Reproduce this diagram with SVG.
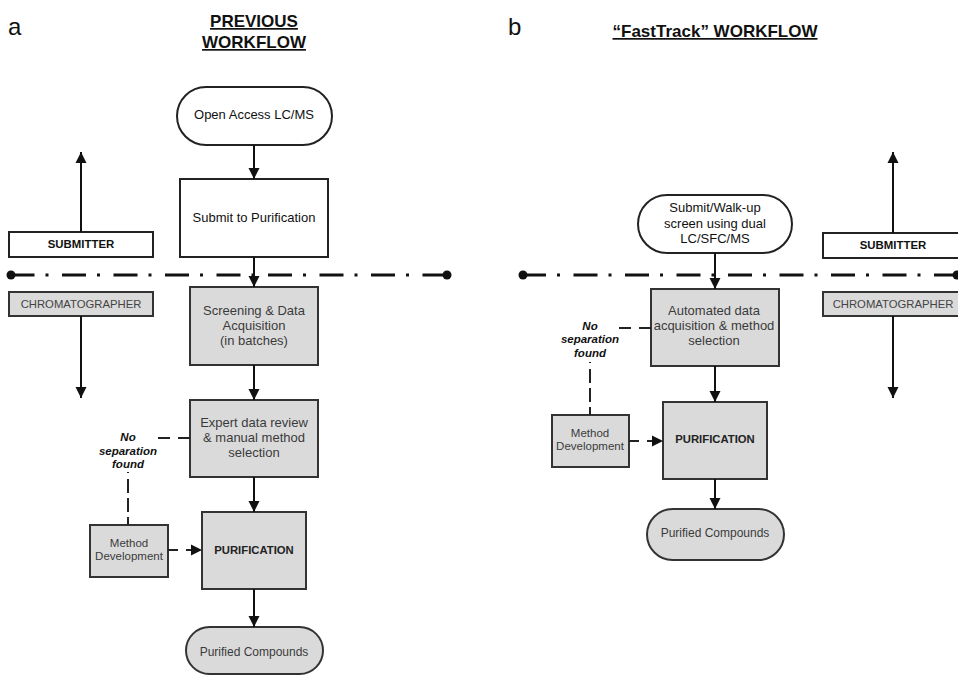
<svg xmlns="http://www.w3.org/2000/svg" width="958" height="676" viewBox="0 0 958 676">
<defs>
<marker id="ah" markerUnits="userSpaceOnUse" markerWidth="12" markerHeight="12" viewBox="0 0 12 12" refX="11" refY="6" orient="auto">
<path d="M0,0.5 L11,6 L0,11.5 Z" fill="#111"/>
</marker>
<style>
text{font-family:"Liberation Sans",Arial,sans-serif;}
.lbl{font-size:24px;fill:#111;}
.title{font-size:17px;font-weight:bold;fill:#111;text-anchor:middle;text-decoration:underline;}
.w{fill:#fff;stroke:#222;stroke-width:2;}
.g{fill:#dadada;stroke:#333;stroke-width:2;}
.tw{font-size:13px;fill:#111;text-anchor:middle;}
.tg{font-size:13px;fill:#3a3a3a;text-anchor:middle;}
.tm{font-size:11.5px;fill:#3a3a3a;text-anchor:middle;}
.tb{font-size:11.3px;font-weight:bold;fill:#222;text-anchor:middle;}
.role{font-size:11.4px;font-weight:bold;fill:#111;text-anchor:middle;}
.roleg{font-size:11.3px;fill:#444;text-anchor:middle;}
.ns{font-size:11.5px;font-weight:bold;font-style:italic;fill:#111;text-anchor:middle;}
.c{fill:none;stroke:#111;stroke-width:2;}
.arr{fill:none;stroke:#111;stroke-width:2;marker-end:url(#ah);}
.dash{fill:none;stroke:#222;stroke-width:2;stroke-dasharray:12 8;}
.dasharr{fill:none;stroke:#222;stroke-width:2;stroke-dasharray:10 8;marker-end:url(#ah);}
.sep{fill:none;stroke:#111;stroke-width:3;stroke-dasharray:24 11 3 13.5;}
</style>
</defs>

<g id="panel-labels">
<text class="lbl" x="8" y="35">a</text>
<text class="lbl" x="508" y="35">b</text>
<text class="title" x="254" y="27">PREVIOUS</text>
<text class="title" x="254" y="48">WORKFLOW</text>
<text class="title" x="715" y="37">“FastTrack” WORKFLOW</text>
</g>

<g id="lane-separators">
<line class="sep" x1="10.5" y1="275" x2="447" y2="275"/>
<circle cx="11" cy="275" r="4.5" fill="#111"/>
<circle cx="447" cy="275" r="4.5" fill="#111"/>
<line class="sep" x1="522" y1="275" x2="958" y2="275"/>
<circle cx="523" cy="275" r="4.5" fill="#111"/>
<circle cx="957" cy="275" r="4.5" fill="#111"/>
</g>

<!-- Panel a nodes -->
<g id="a-submitter">
<rect class="w" x="9" y="232" width="144" height="25"/>
<text class="role" x="81" y="248">SUBMITTER</text>
</g>
<g id="a-chromatographer">
<rect class="g" x="9" y="292" width="144" height="24"/>
<text class="roleg" x="81" y="308">CHROMATOGRAPHER</text>
</g>
<g id="a-open-access">
<rect class="w" x="177" y="87" width="155" height="58" rx="29"/>
<text class="tw" x="254" y="119">Open Access LC/MS</text>
</g>
<g id="a-submit">
<rect class="w" x="180" y="179" width="148" height="78"/>
<text class="tw" x="254" y="222">Submit to Purification</text>
</g>
<g id="a-screening">
<rect class="g" x="190" y="287" width="128" height="78"/>
<text class="tg" x="254" y="315">Screening &amp; Data</text>
<text class="tg" x="254" y="330">Acquisition</text>
<text class="tg" x="254" y="345">(in batches)</text>
</g>
<g id="a-expert">
<rect class="g" x="190" y="400" width="128" height="77"/>
<text class="tg" x="254" y="427">Expert data review</text>
<text class="tg" x="254" y="442">&amp; manual method</text>
<text class="tg" x="254" y="457">selection</text>
</g>
<g id="a-no-sep">
<text class="ns" x="128" y="441">No</text>
<text class="ns" x="128" y="455">separation</text>
<text class="ns" x="128" y="468">found</text>
</g>
<g id="a-method">
<rect class="g" x="90" y="525" width="78" height="52"/>
<text class="tm" x="129" y="547">Method</text>
<text class="tm" x="129" y="560">Development</text>
</g>
<g id="a-purification">
<rect class="g" x="202" y="512" width="104" height="77"/>
<text class="tb" x="254" y="554">PURIFICATION</text>
</g>
<g id="a-purified">
<rect class="g" x="186" y="627" width="137" height="47" rx="23.5"/>
<text class="tm" x="254" y="656" style="font-size:12px">Purified Compounds</text>
</g>

<!-- Panel b nodes -->
<g id="b-submitter">
<rect class="w" x="823" y="233" width="144" height="25"/>
<text class="role" x="893" y="249">SUBMITTER</text>
</g>
<g id="b-chromatographer">
<rect class="g" x="823" y="292" width="144" height="24"/>
<text class="roleg" x="893" y="308">CHROMATOGRAPHER</text>
</g>
<g id="b-walkup">
<rect class="w" x="638" y="195" width="154" height="58" rx="29"/>
<text class="tw" x="715" y="212">Submit/Walk-up</text>
<text class="tw" x="715" y="228">screen using dual</text>
<text class="tw" x="715" y="243">LC/SFC/MS</text>
</g>
<g id="b-automated">
<rect class="g" x="651" y="289" width="128" height="77"/>
<text class="tg" x="714" y="315">Automated data</text>
<text class="tg" x="714" y="330">acquisition &amp; method</text>
<text class="tg" x="714" y="345">selection</text>
</g>
<g id="b-no-sep">
<text class="ns" x="590" y="330">No</text>
<text class="ns" x="590" y="343">separation</text>
<text class="ns" x="590" y="357">found</text>
</g>
<g id="b-method">
<rect class="g" x="552" y="415" width="77" height="52"/>
<text class="tm" x="590" y="437">Method</text>
<text class="tm" x="590" y="450">Development</text>
</g>
<g id="b-purification">
<rect class="g" x="663" y="402" width="104" height="77"/>
<text class="tb" x="715" y="443">PURIFICATION</text>
</g>
<g id="b-purified">
<rect class="g" x="647" y="509" width="137" height="51" rx="25.5"/>
<text class="tm" x="715" y="537" style="font-size:12px">Purified Compounds</text>
</g>

<g id="connectors">
<!-- panel a -->
<line class="arr" x1="81" y1="232" x2="81" y2="152"/>
<line class="arr" x1="81" y1="316" x2="81" y2="398"/>
<line class="arr" x1="254" y1="145" x2="254" y2="179"/>
<line class="arr" x1="254" y1="257" x2="254" y2="287"/>
<line class="arr" x1="254" y1="365" x2="254" y2="400"/>
<line class="arr" x1="254" y1="477" x2="254" y2="512"/>
<line class="arr" x1="254" y1="589" x2="254" y2="627"/>
<line class="dash" x1="190" y1="438" x2="158" y2="438"/>
<line class="dash" x1="128" y1="472" x2="128" y2="525" style="stroke-dasharray:1 6 14 5 14 5 14"/>
<line class="dasharr" x1="168" y1="550" x2="202" y2="550"/>
<!-- panel b -->
<line class="arr" x1="893" y1="233" x2="893" y2="152"/>
<line class="arr" x1="893" y1="316" x2="893" y2="398"/>
<line class="arr" x1="715" y1="253" x2="715" y2="289"/>
<line class="arr" x1="715" y1="366" x2="715" y2="402"/>
<line class="arr" x1="715" y1="479" x2="715" y2="509"/>
<line class="dash" x1="651" y1="328" x2="619" y2="328"/>
<line class="dash" x1="590" y1="362" x2="590" y2="415" style="stroke-dasharray:1 6 14 5 14 5 14"/>
<line class="dasharr" x1="629" y1="441" x2="663" y2="441"/>
</g>
</svg>
